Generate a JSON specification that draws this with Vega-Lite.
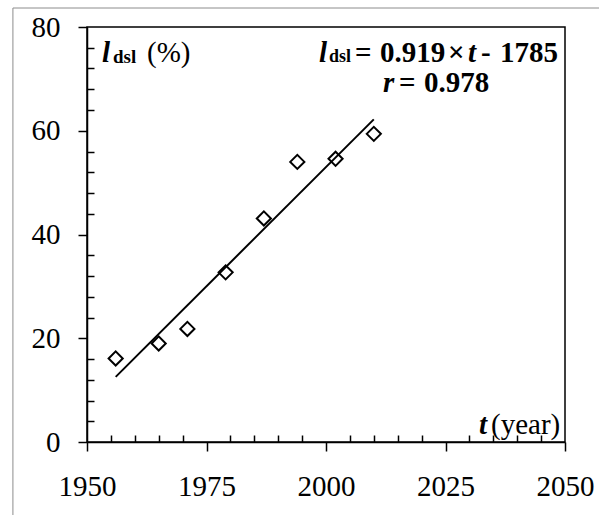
{
  "$schema": "https://vega.github.io/schema/vega-lite/v6.json",
  "width": 478,
  "height": 415,
  "autosize": "none",
  "padding": {"left": 87, "top": 27, "right": 34, "bottom": 73},
  "background": "white",
  "config": {
    "view": {"stroke": "black", "strokeWidth": 1.5},
    "font": "Liberation Serif",
    "text": {"font": "Liberation Serif", "fontSize": 29, "color": "black", "align": "left"}
  },
  "data": {"values": [{}]},
  "datasets": {
    "observations": [
      {"year": 1956, "l_dsl": 16.1},
      {"year": 1965, "l_dsl": 19.0},
      {"year": 1971, "l_dsl": 21.8},
      {"year": 1979, "l_dsl": 32.7},
      {"year": 1987, "l_dsl": 43.1},
      {"year": 1994, "l_dsl": 54.0},
      {"year": 2002, "l_dsl": 54.6},
      {"year": 2010, "l_dsl": 59.4}
    ],
    "fit": [
      {"year": 1956, "l_dsl": 12.56},
      {"year": 2010, "l_dsl": 62.19}
    ]
  },
  "layer": [
    {
      "mark": {"type": "rect", "fill": null, "stroke": "#8c8c8c", "strokeWidth": 1},
      "encoding": {
        "x": {"datum": 1934.5, "type": "quantitative"},
        "x2": {"datum": 2100},
        "y": {"datum": 83.66, "type": "quantitative"},
        "y2": {"datum": -40}
      }
    },
    {
      "data": {"name": "observations"},
      "mark": {"type": "point", "shape": "diamond", "size": 200, "filled": false, "stroke": "black", "strokeWidth": 2, "opacity": 1},
      "encoding": {
        "x": {
          "field": "year",
          "type": "quantitative",
          "scale": {"domain": [1950, 2050], "nice": false, "zero": false},
          "axis": {
            "title": null,
            "grid": false,
            "values": [1950, 1955, 1960, 1965, 1970, 1975, 1980, 1985, 1990, 1995, 2000, 2005, 2010, 2015, 2020, 2025, 2030, 2035, 2040, 2045, 2050],
            "tickCount": 100,
            "format": "d",
            "labelExpr": "datum.value % 25 === 0 ? datum.label : ''",
            "tickSize": {"condition": {"test": "datum.value % 25 === 0", "value": 9}, "value": -7},
            "tickColor": "black",
            "tickWidth": 1.5,
            "domainColor": "black",
            "domainWidth": 1.5,
            "labelFont": "Liberation Serif",
            "labelFontSize": 29,
            "labelColor": "black",
            "labelPadding": 21,
            "labelFlush": false,
            "labelOverlap": false
          }
        },
        "y": {
          "field": "l_dsl",
          "type": "quantitative",
          "scale": {"domain": [0, 80], "nice": false},
          "axis": {
            "title": null,
            "grid": false,
            "values": [0, 4, 8, 12, 16, 20, 24, 28, 32, 36, 40, 44, 48, 52, 56, 60, 64, 68, 72, 76, 80],
            "tickCount": 100,
            "format": "d",
            "labelExpr": "datum.value % 20 === 0 ? datum.label : ''",
            "tickSize": {"condition": {"test": "datum.value % 20 === 0", "value": 9}, "value": -7},
            "tickColor": "black",
            "tickWidth": 1.5,
            "domainColor": "black",
            "domainWidth": 1.5,
            "labelFont": "Liberation Serif",
            "labelFontSize": 29,
            "labelColor": "black",
            "labelPadding": 18,
            "labelFlush": false,
            "labelOverlap": false
          }
        }
      }
    },
    {
      "data": {"name": "fit"},
      "mark": {"type": "line", "color": "black", "strokeWidth": 2},
      "encoding": {
        "x": {"field": "year", "type": "quantitative"},
        "y": {"field": "l_dsl", "type": "quantitative"}
      }
    },
    {
      "mark": {"type": "text", "text": "l", "fontStyle": "italic", "fontWeight": "bold", "dx": 15},
      "encoding": {"x": {"datum": 1950, "type": "quantitative"}, "y": {"datum": 75, "type": "quantitative"}}
    },
    {
      "mark": {"type": "text", "text": "dsl", "fontWeight": "bold", "fontSize": 19, "dx": 26, "dy": 4},
      "encoding": {"x": {"datum": 1950, "type": "quantitative"}, "y": {"datum": 75, "type": "quantitative"}}
    },
    {
      "mark": {"type": "text", "text": "(%)", "dx": 60},
      "encoding": {"x": {"datum": 1950, "type": "quantitative"}, "y": {"datum": 75, "type": "quantitative"}}
    },
    {
      "mark": {"type": "text", "text": "l", "fontStyle": "italic", "fontWeight": "bold", "dx": -246},
      "encoding": {"x": {"datum": 2050, "type": "quantitative"}, "y": {"datum": 75, "type": "quantitative"}}
    },
    {
      "mark": {"type": "text", "text": "dsl", "fontWeight": "bold", "fontSize": 18, "dx": -236, "dy": 4},
      "encoding": {"x": {"datum": 2050, "type": "quantitative"}, "y": {"datum": 75, "type": "quantitative"}}
    },
    {
      "mark": {"type": "text", "text": "=", "fontWeight": "bold", "dx": -210},
      "encoding": {"x": {"datum": 2050, "type": "quantitative"}, "y": {"datum": 75, "type": "quantitative"}}
    },
    {
      "mark": {"type": "text", "text": "0.919", "fontWeight": "bold", "dx": -185},
      "encoding": {"x": {"datum": 2050, "type": "quantitative"}, "y": {"datum": 75, "type": "quantitative"}}
    },
    {
      "mark": {"type": "text", "text": "×", "fontWeight": "bold", "dx": -117},
      "encoding": {"x": {"datum": 2050, "type": "quantitative"}, "y": {"datum": 75, "type": "quantitative"}}
    },
    {
      "mark": {"type": "text", "text": "t", "fontStyle": "italic", "fontWeight": "bold", "dx": -97},
      "encoding": {"x": {"datum": 2050, "type": "quantitative"}, "y": {"datum": 75, "type": "quantitative"}}
    },
    {
      "mark": {"type": "text", "text": "-", "fontWeight": "bold", "dx": -84},
      "encoding": {"x": {"datum": 2050, "type": "quantitative"}, "y": {"datum": 75, "type": "quantitative"}}
    },
    {
      "mark": {"type": "text", "text": "1785", "fontWeight": "bold", "align": "right", "dx": -7},
      "encoding": {"x": {"datum": 2050, "type": "quantitative"}, "y": {"datum": 75, "type": "quantitative"}}
    },
    {
      "mark": {"type": "text", "text": "r", "fontStyle": "italic", "fontWeight": "bold", "dx": -182},
      "encoding": {"x": {"datum": 2050, "type": "quantitative"}, "y": {"datum": 69.2, "type": "quantitative"}}
    },
    {
      "mark": {"type": "text", "text": "=", "fontWeight": "bold", "dx": -166},
      "encoding": {"x": {"datum": 2050, "type": "quantitative"}, "y": {"datum": 69.2, "type": "quantitative"}}
    },
    {
      "mark": {"type": "text", "text": "0.978", "fontWeight": "bold", "dx": -141},
      "encoding": {"x": {"datum": 2050, "type": "quantitative"}, "y": {"datum": 69.2, "type": "quantitative"}}
    },
    {
      "mark": {"type": "text", "text": "t", "fontStyle": "italic", "fontWeight": "bold", "dx": -86},
      "encoding": {"x": {"datum": 2050, "type": "quantitative"}, "y": {"datum": 3.28, "type": "quantitative"}}
    },
    {
      "mark": {"type": "text", "text": "(year)", "dx": -74},
      "encoding": {"x": {"datum": 2050, "type": "quantitative"}, "y": {"datum": 3.28, "type": "quantitative"}}
    }
  ]
}
